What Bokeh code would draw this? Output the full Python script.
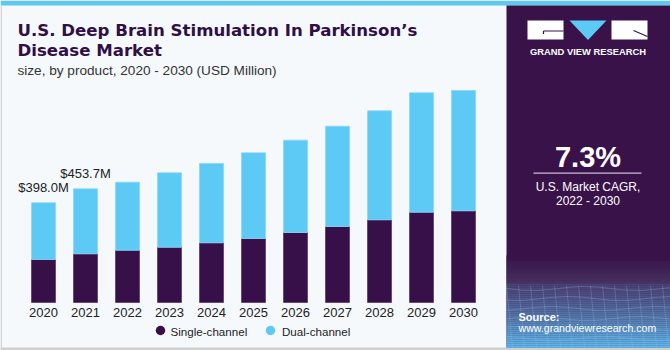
import numpy as np
from bokeh.plotting import figure
from bokeh.models import Range1d, ColumnDataSource
from bokeh.core.properties import value
from bokeh.embed import file_html
from bokeh.resources import INLINE

# ---------------- data ----------------
years = ["2020", "2021", "2022", "2023", "2024", "2025", "2026", "2027", "2028", "2029", "2030"]
single_channel = [171.6, 194.3, 208.7, 220.6, 238.2, 255.4, 279.3, 303.2, 330.0, 360.3, 365.9]
dual_channel = [226.4, 259.4, 271.3, 296.9, 316.4, 341.9, 368.3, 400.2, 435.0, 476.4, 480.0]
value_labels = ["$398.0M", "$453.7M"]
series_names = ["Single-channel", "Dual-channel"]
cagr_text = "7.3%"
cagr_caption = ["U.S. Market CAGR,", "2022 - 2030"]

# ---------------- styles ----------------
DARK = "#37104a"
LIGHT = "#5dcaf5"
PANEL = "#39124a"
BG = "#f5f9fc"
FONT = value("Liberation Sans")
SH = 0.3  # baseline compensation (em)

W, H = 670, 350
p = figure(width=W, height=H, x_range=Range1d(0, W), y_range=Range1d(H, 0),
           output_backend="svg", toolbar_location=None, min_border=0,
           x_axis_type=None, y_axis_type=None, outline_line_color=None,
           background_fill_color=BG, border_fill_color=BG)

# bar scales: category index -> pixel, value -> pixel
step = 42.0
x0_px = 43.0
bx_start = -x0_px / step
p.extra_x_ranges = {"bx": Range1d(bx_start, bx_start + W / step)}
base_from_bottom = 48.0
mpp = 3.99
p.extra_y_ranges = {"by": Range1d(-base_from_bottom * mpp, (H - base_from_bottom) * mpp)}


def label(xs, ys, texts, size, **kw):
    ys = [y - SH * size for y in ys]
    kw.setdefault("text_font", FONT)
    kw.setdefault("text_baseline", "alphabetic")
    return p.text(x=xs, y=ys, text=texts, text_font_size="%gpx" % size, **kw)


# ---------------- frame decorations ----------------
p.quad(left=[0], right=[W], top=[0], bottom=[5], fill_color="#5ec8f0", line_color=None)
p.quad(left=[0], right=[1.2], top=[5], bottom=[H], fill_color="#c9c9c9", line_color=None)
p.quad(left=[0], right=[W], top=[347], bottom=[H], fill_color="#cfcfcf", line_color=None)

# right panel
p.quad(left=[506], right=[W], top=[5], bottom=[347], fill_color=PANEL, line_color=None)


def mix(c1, c2, t):
    a = [int(c1[i:i + 2], 16) for i in (1, 3, 5)]
    b = [int(c2[i:i + 2], 16) for i in (1, 3, 5)]
    return "#%02x%02x%02x" % tuple(int(round(a[k] + (b[k] - a[k]) * t)) for k in range(3))


n1 = 10
for i in range(n1):
    t0 = 255 + i * 28 / n1
    p.quad(left=[506], right=[W], top=[t0], bottom=[t0 + 28 / n1 + 0.3],
           fill_color=mix(PANEL, "#45305f", i / (n1 - 1)), line_color=None)
n2 = 32
for i in range(n2):
    t0 = 283 + i * 64 / n2
    p.quad(left=[506], right=[W], top=[t0], bottom=[t0 + 64 / n2 + 0.3],
           fill_color=mix("#4a4274", "#5db6ea", (i / (n2 - 1)) ** 1.2), line_color=None)
# faint mesh lines
for k in range(6):
    yy = 288 + k * 10
    xs = list(np.linspace(506, W, 12))
    ys = [yy + 2.0 * np.sin(j * 0.9 + k) for j in range(12)]
    p.line(xs, ys, line_color="#9fc6ea", line_alpha=0.35, line_width=0.8)
for k in range(14):
    xx = 506 + k * 12
    p.line([xx, xx + 6], [285, H - 3], line_color="#9fc6ea", line_alpha=0.3, line_width=0.8)

# logo
p.quad(left=[527, 611], right=[563, 647], top=[20, 20], bottom=[39, 39],
       fill_color="white", line_color=None)
p.patch([569, 606, 587.5], [20, 20, 39.5], fill_color=LIGHT, line_color=None)
p.segment(x0=[543, 543, 633], y0=[30.5, 30.5, 30], x1=[563, 543, 647], y1=[30.5, 33.5, 36],
          line_color=PANEL, line_width=1.2)
label([587.5], [53.5], ["GRAND VIEW RESEARCH"], 9.4, text_font_style="bold",
      text_color="white", text_align="center")

# CAGR block
label([587.5], [165], [cagr_text], 29, text_font_style="bold", text_color="white",
      text_align="center")
p.segment(x0=[533], y0=[172.7], x1=[641], y1=[172.7], line_color="#c9bfd3", line_width=1.2)
label([587.5, 587.5], [190, 204.5], cagr_caption, 12, text_color="white", text_align="center")

# source
label([518], [319.5], ["Source:"], 11, text_font_style="bold", text_color="white")
label([518], [331], ["www.grandviewresearch.com"], 10.6, text_color="white")

# titles
TITLE_C = "#2f0f45"
label([17, 17], [35, 55], ["U.S. Deep Brain Stimulation In Parkinson\u2019s", "Disease Market"],
      16.6, text_font=value("DejaVu Sans"), text_font_style="bold", text_color=TITLE_C)
label([17], [74], ["size, by product, 2020 - 2030 (USD Million)"], 13.6, text_color="#333333")

# ---------------- bars ----------------
idx = list(range(len(years)))
totals = [s + d for s, d in zip(single_channel, dual_channel)]
src = ColumnDataSource(dict(x=idx, single=single_channel, total=totals, year=years))
bw = 24 / step
p.vbar(x="x", width=bw, bottom=0, top="single", source=src, x_range_name="bx",
       y_range_name="by", fill_color=DARK, line_color="#5b3c70", line_width=0.8)
p.vbar(x="x", width=bw, bottom="single", top="total", source=src, x_range_name="bx",
       y_range_name="by", fill_color=LIGHT, line_color="#8ad8f7", line_width=0.8)

# value labels on first two bars
lab_src = ColumnDataSource(dict(x=idx[:2], y=totals[:2], t=value_labels))
p.text(x="x", y="y", text="t", source=lab_src, x_range_name="bx", y_range_name="by",
       y_offset=-11 - SH * 13, text_font=FONT, text_font_size="13px", text_color="#222222",
       text_align="center", text_baseline="alphabetic")

# year labels
p.text(x="x", y=316 - SH * 13, text="year", source=src, x_range_name="bx",
       text_font=FONT, text_font_size="13px", text_color="#222222",
       text_align="center", text_baseline="alphabetic")

# legend
p.scatter(x=[160, 270], y=[330, 330], size=9.5, marker="circle",
          fill_color=[DARK, LIGHT], line_color=None)
label([170, 281.5], [334, 334], series_names, 11.6, text_color="#222222")

open("out.html", "w").write(file_html(p, INLINE))
